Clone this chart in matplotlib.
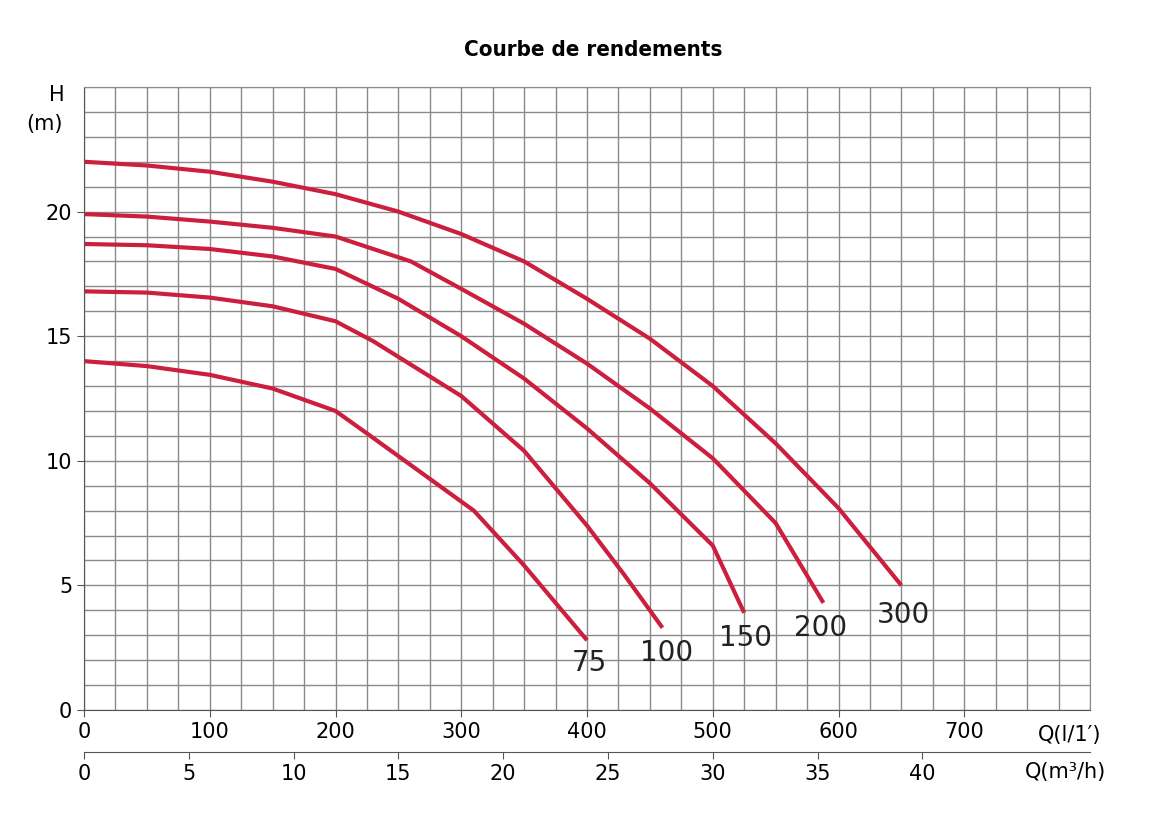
import matplotlib.pyplot as plt
import numpy as np

# debit en l/min, hauteur en m
q300 = [0, 50, 100, 150, 200, 250, 300, 350, 400, 450, 500, 550, 600, 650]
h300 = [22.0, 21.85, 21.6, 21.2, 20.7, 20.0, 19.1, 18.0, 16.5, 14.9, 13.0, 10.7, 8.1, 5.0]
q200 = [0, 50, 100, 150, 200, 260, 300, 350, 400, 450, 500, 550, 588]
h200 = [19.9, 19.8, 19.6, 19.35, 19.0, 18.0, 16.9, 15.5, 13.9, 12.1, 10.1, 7.5, 4.3]
q150 = [0, 50, 100, 150, 200, 250, 300, 350, 400, 450, 500, 525]
h150 = [18.7, 18.65, 18.5, 18.2, 17.7, 16.5, 15.0, 13.3, 11.3, 9.1, 6.6, 3.9]
q100 = [0, 50, 100, 150, 200, 230, 300, 350, 400, 430, 460]
h100 = [16.8, 16.75, 16.55, 16.2, 15.6, 14.8, 12.6, 10.4, 7.4, 5.4, 3.3]
q75 = [0, 50, 100, 150, 200, 225, 310, 350, 400]
h75 = [14.0, 13.8, 13.45, 12.9, 12.0, 11.1, 8.0, 5.8, 2.8]
curves = [(q75, h75, "75"), (q100, h100, "100"), (q150, h150, "150"),
          (q200, h200, "200"), (q300, h300, "300")]
label_pos = {"75": (402, 1.9), "100": (463, 2.3), "150": (526, 2.9),
             "200": (586, 3.3), "300": (652, 3.8)}

fig = plt.figure(figsize=(11.53, 8.16), dpi=100)
ax = fig.add_axes([84/1153, 1-710/816, (1090-84)/1153, (710-87)/816])

ax.set_xlim(0, 800)
ax.set_ylim(0, 25)
ax.set_xticks(np.arange(0, 801, 25), minor=True)
ax.set_yticks(np.arange(0, 26, 1), minor=True)
ax.set_xticks(range(0, 701, 100))
ax.set_yticks([0, 5, 10, 15, 20])
ax.grid(True, which="both", color="#8a8a8a", lw=1)
ax.tick_params(which="minor", length=0)
ax.tick_params(which="major", labelsize=15, color="#555", length=5)
for s in ax.spines.values():
    s.set_color("#8a8a8a")
ax.spines["left"].set_color("#555")
ax.spines["bottom"].set_color("#555")
ax.set_axisbelow(True)

for q, h, name in curves:
    ax.plot(q, h, color="#cc1f3d", lw=3, solid_capstyle="butt", solid_joinstyle="round")
    lx, ly = label_pos[name]
    ax.text(lx, ly, name, fontsize=20, ha="center", va="center", color="#222",
            weight="medium")

sec = ax.secondary_xaxis(-0.067, functions=(lambda q: q * 3 / 50, lambda m: m * 50 / 3))
sec.set_xticks(range(0, 41, 5))
sec.tick_params(labelsize=15, color="#555", length=5)
sec.spines["bottom"].set_color("#555")

fig.text(1070/1153, 1-735/816, "Q(l/1′)", fontsize=15, ha="center", va="center")
fig.text(1065/1153, 1-772/816, "Q(m³/h)", fontsize=15, ha="center", va="center")
fig.text(57/1153, 1-95/816, "H", fontsize=15, ha="center", va="center")
fig.text(45/1153, 1-124/816, "(m)", fontsize=15, ha="center", va="center")
fig.text(593/1153, 1-50/816, "Courbe de rendements", fontsize=16, weight="bold",
         ha="center", va="center", stretch="condensed")

fig.savefig("out.png", dpi=100)
